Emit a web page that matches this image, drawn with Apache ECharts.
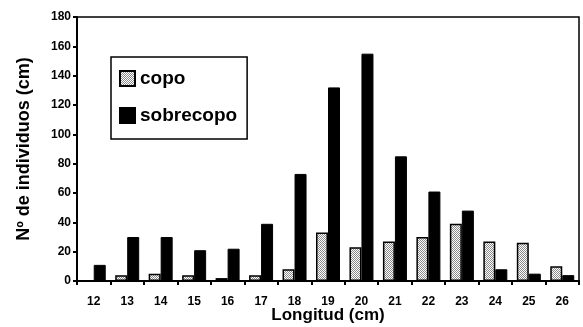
<!DOCTYPE html>
<html>
<head>
<meta charset="utf-8">
<script src="https://cdn.jsdelivr.net/npm/echarts@6/dist/echarts.min.js"></script>
<style>
  html, body { margin: 0; padding: 0; background: #fff; }
  #chart { width: 583px; height: 327px; }
</style>
</head>
<body>
<div id="chart"></div>
<script>
// Length classes (cm)
const categories = ['12', '13', '14', '15', '16', '17', '18', '19', '20', '21', '22', '23', '24', '25', '26'];
// Number of individuals per length class
const copo = [0, 4, 5, 4, 2, 4, 8, 33, 23, 27, 30, 39, 27, 26, 10];
const sobrecopo = [11, 30, 30, 21, 22, 39, 73, 132, 155, 85, 61, 48, 8, 5, 4];
const seriesNames = ['copo', 'sobrecopo'];

// Stippled fill for the "copo" bars
function stipple() {
  const c = document.createElement('canvas');
  c.width = 2; c.height = 2;
  const g = c.getContext('2d');
  g.fillStyle = '#ffffff';
  g.fillRect(0, 0, 2, 2);
  g.fillStyle = '#8a8a8a';
  g.fillRect(0, 0, 1, 1);
  g.fillRect(1, 1, 1, 1);
  return c;
}

const chart = echarts.init(document.getElementById('chart'), null, { renderer: 'canvas' });
const bold = { fontFamily: 'Liberation Sans, Arial, sans-serif', fontWeight: 'bold', color: '#000' };

chart.setOption({
  animation: false,
  backgroundColor: '#fff',
  grid: {
    left: 77, right: 4, top: 17, bottom: 46,
    outerBoundsMode: 'none',
    containLabel: false,
    show: true, borderColor: '#000', borderWidth: 1.5, backgroundColor: 'transparent'
  },
  legend: {
    orient: 'vertical',
    left: 111, top: 57,
    padding: [12, 10, 14, 8],
    icon: 'rect',
    itemWidth: 15, itemHeight: 15, itemGap: 18,
    borderColor: '#000', borderWidth: 1.5,
    backgroundColor: '#fff',
    textStyle: Object.assign({}, bold, { fontSize: 19 }),
    data: seriesNames
  },
  xAxis: {
    type: 'category',
    data: categories,
    boundaryGap: true,
    name: 'Longitud (cm)',
    nameLocation: 'middle',
    nameMoveOverlap: false,
    nameGap: 26,
    nameTextStyle: Object.assign({}, bold, { fontSize: 17 }),
    axisLine: { lineStyle: { color: '#000', width: 2 } },
    axisTick: { show: true, inside: false, length: 4, lineStyle: { color: '#000', width: 2 } },
    axisLabel: Object.assign({}, bold, { fontSize: 12, margin: 15 })
  },
  yAxis: {
    type: 'value',
    min: 0, max: 180, interval: 20,
    name: 'Nº de individuos (cm)',
    nameLocation: 'middle',
    nameMoveOverlap: false,
    nameGap: 44,
    nameTextStyle: Object.assign({}, bold, { fontSize: 18 }),
    splitLine: { show: false },
    axisLine: { show: true, lineStyle: { color: '#000', width: 2 } },
    axisTick: { show: true, length: 4, lineStyle: { color: '#000', width: 2 } },
    axisLabel: Object.assign({}, bold, { fontSize: 12, margin: 6 })
  },
  series: [
    {
      name: seriesNames[0],
      type: 'bar',
      data: copo,
      barWidth: 12,
      barGap: '0%',
      itemStyle: {
        color: { image: stipple(), repeat: 'repeat' },
        borderColor: '#000',
        borderWidth: 1.5
      }
    },
    {
      name: seriesNames[1],
      type: 'bar',
      data: sobrecopo,
      barWidth: 12,
      itemStyle: { color: '#000', borderColor: '#000', borderWidth: 1 }
    }
  ]
});
</script>
</body>
</html>
